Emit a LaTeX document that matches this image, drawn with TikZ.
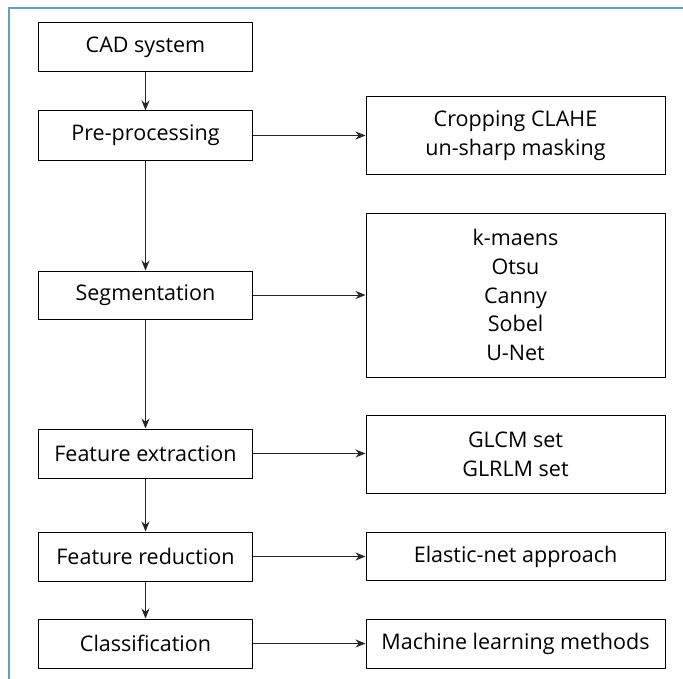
\documentclass[tikz,border=0pt]{standalone}
\usepackage{fontspec}
\setmainfont{Open Sans}
\usetikzlibrary{arrows.meta}
\definecolor{framecol}{RGB}{100,160,195}
\tikzset{
  box/.style={draw=black, line width=1bp, inner sep=0pt, align=center,
    font=\fontsize{21.6}{29}\selectfont},
  lbox/.style={box, minimum width=213bp, minimum height=49bp},
  rbox/.style={box, minimum width=299bp},
  arr/.style={draw=black!85, line width=0.9bp, -{Stealth[length=10bp,width=8bp]}}
}
\begin{document}
\begin{tikzpicture}[x=1bp,y=-1bp]
\useasboundingbox (0,0) rectangle (683,679);
\draw[framecol, line width=1.5bp] (9,679) -- (9,8) -- (683,8);
\node[lbox] (cad) at (145.5,47.5) {CAD system};
\node[lbox] (pre) at (145.5,135.5) {Pre-processing};
\node[lbox, minimum height=48bp] (seg) at (145.5,295) {Segmentation};
\node[lbox] (fe) at (145.5,453.5) {Feature extraction};
\node[lbox] (fr) at (145.5,556.5) {Feature reduction};
\node[lbox] (cls) at (145.5,643.5) {Classification};
\node[rbox, minimum height=77bp] (crop) at (515.5,135.5) {Cropping CLAHE\\un-sharp masking};
\node[rbox, minimum height=164bp] (segm) at (515.5,295) {k-maens\\Otsu\\Canny\\Sobel\\U-Net};
\node[rbox, minimum height=78bp] (feat) at (515.5,454) {GLCM set\\GLRLM set};
\node[rbox, minimum height=48bp] (elas) at (515.5,556.5) {Elastic-net approach};
\node[rbox, minimum height=49bp] (ml) at (515.5,643.5) {Machine learning methods};
\draw[arr] (cad) -- (pre);
\draw[arr] (pre) -- (seg);
\draw[arr] (seg) -- (fe);
\draw[arr] (fe) -- (fr);
\draw[arr] (fr) -- (cls);
\draw[arr] (pre) -- (crop);
\draw[arr] (seg) -- (segm);
\draw[arr] (fe.east) -- (feat.west |- fe.east);
\draw[arr] (fr) -- (elas);
\draw[arr] (cls) -- (ml);
\end{tikzpicture}
\end{document}
